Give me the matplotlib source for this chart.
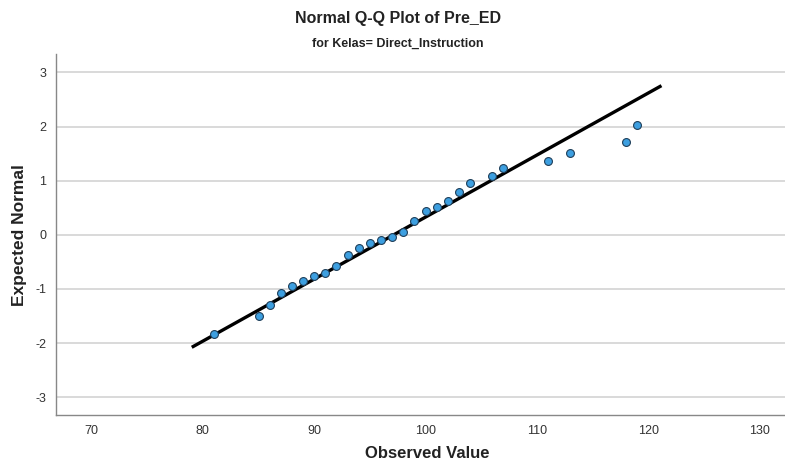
import matplotlib
matplotlib.use("Agg")
import matplotlib.pyplot as plt
import numpy as np

plt.rcParams['font.family'] = ['Liberation Sans Narrow', 'Liberation Sans', 'DejaVu Sans']
plt.rcParams['axes.unicode_minus'] = False

observed = [81, 85, 86, 87, 88, 89, 90, 91, 92, 93, 94, 95, 96, 97, 98, 99, 100,
            101, 102, 103, 104, 106, 107, 111, 113, 118, 119]
expected = [-1.84, -1.51, -1.29, -1.07, -0.94, -0.85, -0.77, -0.70, -0.57, -0.38,
            -0.24, -0.16, -0.09, -0.05, 0.05, 0.26, 0.43, 0.52, 0.62, 0.79, 0.95,
            1.08, 1.24, 1.37, 1.52, 1.72, 2.03]
line_mean = 97.15
line_sd = 8.73
line_x = [79.0, 121.2]
x_ticks = [70, 80, 90, 100, 110, 120, 130]
y_ticks = [-3, -2, -1, 0, 1, 2, 3]

fig = plt.figure(figsize=(7.85, 4.68), dpi=100)
ax = fig.add_axes([56/785, 1-415/468, (785-56)/785, (415-54)/468])

for yv in y_ticks:
    ax.axhline(yv, color='#d9d9d9', lw=1.4, zorder=0)

lx = np.array(line_x)
ax.plot(lx, (lx - line_mean) / line_sd, color='black', lw=2.4, zorder=2,
        solid_capstyle='butt')
ax.scatter(observed, expected, s=32, facecolor='#3d9fe0', edgecolor='#1f3f5a',
           linewidth=0.8, zorder=3)

ax.set_xlim(66.8, 132.3)
ax.set_ylim(-3.33, 3.34)
ax.set_xticks(x_ticks)
ax.set_yticks(y_ticks)
ax.tick_params(length=0, labelsize=9, colors='#333333', pad=7)
for s in ['top', 'right']:
    ax.spines[s].set_visible(False)
for s in ['left', 'bottom']:
    ax.spines[s].set_color('#888888')
    ax.spines[s].set_linewidth(1.0)

fig.text(20/785, 1-235/468, 'Expected Normal', rotation=90, ha='center', va='center',
         fontsize=12.5, fontweight='bold', color='#222222')
fig.text(427/785, 1-453/468, 'Observed Value', ha='center', va='center',
         fontsize=12, fontweight='bold', color='#222222')
fig.text(398/785, 1-18/468, 'Normal Q-Q Plot of Pre_ED', ha='center', va='center',
         fontsize=11.5, fontweight='bold', color='#222222')
fig.text(398/785, 1-44/468, 'for Kelas= Direct_Instruction', ha='center', va='center',
         fontsize=9, fontweight='bold', color='#222222')

fig.savefig('out.png', dpi=100)
